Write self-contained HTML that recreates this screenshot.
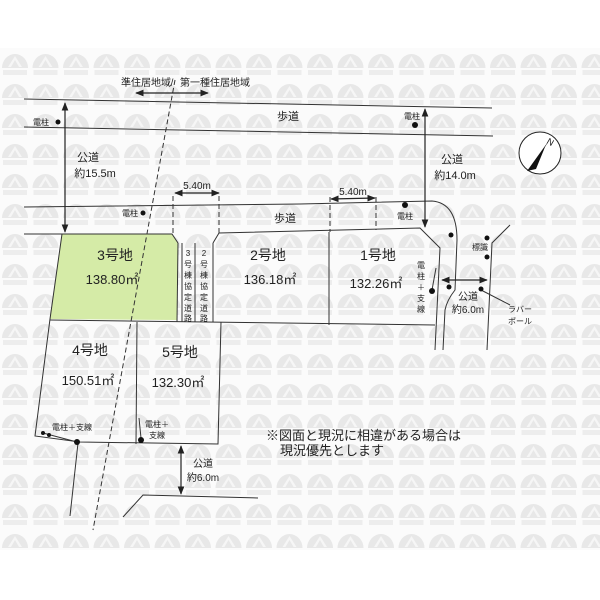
<!DOCTYPE html>
<html><head><meta charset="utf-8"><style>
html,body{margin:0;padding:0;background:#fff;}
svg{display:block;font-family:"Liberation Sans","Noto Sans CJK JP",sans-serif;}
</style></head><body>
<svg width="600" height="600" viewBox="0 0 600 600" xmlns="http://www.w3.org/2000/svg">
<defs>
<pattern id="wm" x="0" y="48" width="30.5" height="30" patternUnits="userSpaceOnUse">
<rect width="30.5" height="30" fill="#fbfbfb"/>
<path d="M2 20 A13 14 0 0 1 28 20 Z" fill="#e8e8e8"/>
<path d="M15 8 L8 19 L22 19 Z" fill="#f6f6f6"/>
<path d="M15 12 L11 19 L19 19 Z" fill="#e8e8e8"/>
<rect x="3" y="22" width="24" height="5" fill="#ededed"/>
</pattern>
<marker id="a" viewBox="0 0 10 10" refX="9" refY="5" markerWidth="7" markerHeight="7" orient="auto-start-reverse"><path d="M0 1 L10 5 L0 9 Z" fill="#222"/></marker>
</defs>
<rect width="600" height="600" fill="#fff"/>
<rect x="0" y="48" width="600" height="502" fill="url(#wm)"/>
<polygon points="62,234 172,234 178,243 177,320 50,319" fill="#d5eba7"/>
<g stroke="#333" stroke-width="1" fill="none">
<line x1="24" y1="99" x2="492" y2="108"/>
<line x1="24" y1="127" x2="493" y2="136"/>
<path d="M24 207 L300 204 L432 201 Q457 203 457 240 L455 290 Q447 300 445 310 L443 350"/>
<path d="M24 234 L172 234 L178 243 M213 243 L219 233 L420 228 L440 248 L435 350"/>
<line x1="178" y1="243" x2="177" y2="322"/>
<line x1="182" y1="243" x2="182" y2="322"/>
<line x1="195" y1="243" x2="195" y2="322"/>
<line x1="213" y1="243" x2="213" y2="322"/>
<path d="M172 234 L62 234 L50 319 L35 436 L80 442 L218 444 L221 322"/>
<line x1="50" y1="320" x2="435" y2="325"/>
<line x1="137" y1="322" x2="136" y2="444"/>
<line x1="329" y1="232" x2="329" y2="325"/>
<line x1="78" y1="443" x2="70" y2="516"/>
<path d="M123 517 L143 495 L258 498"/>
<path d="M510 225 L492 243 L487 350"/>
<line x1="481" y1="290" x2="510" y2="305"/>
<line x1="43" y1="433" x2="77" y2="442"/>
<line x1="139" y1="418" x2="141" y2="438"/>
<line x1="436" y1="268" x2="432" y2="290"/>
</g>
<g stroke="#333" stroke-width="1" fill="none" stroke-dasharray="5,3">
<line x1="175" y1="80" x2="93" y2="530"/>
<path d="M173 196 L173 233"/><path d="M219 196 L219 233"/>
<path d="M330 197 L330 232"/><path d="M376 197 L376 230"/>
</g>
<g stroke="#222" stroke-width="1.2" fill="none" marker-start="url(#a)" marker-end="url(#a)">
<line x1="136" y1="93" x2="208" y2="93"/>
<line x1="175" y1="193" x2="219" y2="193"/>
<line x1="331" y1="199" x2="375" y2="198"/>
<line x1="65" y1="103" x2="65" y2="232"/>
<line x1="425" y1="109" x2="425" y2="227"/>
<line x1="442" y1="280" x2="487" y2="280"/>
<line x1="181" y1="446" x2="181" y2="494"/>
</g>
<g fill="#111">
<circle cx="58" cy="122" r="2.5"/><circle cx="143" cy="213" r="2.5"/>
<circle cx="415" cy="125" r="3"/><circle cx="405" cy="205" r="3"/>
<circle cx="451" cy="235" r="2.5"/><circle cx="449" cy="287" r="2.5"/>
<circle cx="432" cy="291" r="3"/>
<circle cx="487" cy="238" r="2.5"/><circle cx="487" cy="257" r="2.5"/><circle cx="481" cy="289" r="2.5"/>
<circle cx="43" cy="433" r="2"/><circle cx="49" cy="435" r="2"/><circle cx="77" cy="442" r="3"/>
<circle cx="141" cy="440" r="3"/>
</g>
<circle cx="540" cy="153" r="21" fill="#fff" stroke="#222" stroke-width="1"/>
<polygon points="550,139 527,171 536,169 545,147" fill="#111"/>
<text x="546" y="143" font-size="9" fill="#111" transform="rotate(30 546 143)">N</text>
<g fill="#222" font-size="10" text-anchor="middle">
<text x="146" y="86">準住居地域</text><text x="172" y="86">/</text><text x="215" y="86">第一種住居地域</text>
<text x="197" y="189">5.40m</text><text x="353" y="195">5.40m</text>
<text x="41" y="125" font-size="8">電柱</text>
<text x="130" y="216" font-size="8">電柱</text>
<text x="412" y="119" font-size="8">電柱</text>
<text x="405" y="219" font-size="8">電柱</text>
<text x="480" y="250" font-size="8">標識</text>
<text x="520" y="312" font-size="8">ラバー</text><text x="520" y="324" font-size="8">ポール</text>
<text x="72" y="430" font-size="8">電柱＋支線</text>
<text x="157" y="427" font-size="8">電柱＋</text><text x="157" y="438" font-size="8">支線</text>
</g>
<g fill="#222" text-anchor="middle" font-size="8">
<text x="421" y="268">電</text><text x="421" y="279">柱</text><text x="421" y="290">＋</text><text x="421" y="301">支</text><text x="421" y="312">線</text>
<text x="188" y="256">3</text><text x="188" y="267">号</text><text x="188" y="278">棟</text><text x="188" y="289">協</text><text x="188" y="300">定</text><text x="188" y="311">道</text><text x="188" y="321">路</text>
<text x="204" y="256">2</text><text x="204" y="267">号</text><text x="204" y="278">棟</text><text x="204" y="289">協</text><text x="204" y="300">定</text><text x="204" y="311">道</text><text x="204" y="321">路</text>
</g>
<g fill="#222" font-size="11" text-anchor="middle">
<text x="288" y="120">歩道</text><text x="285" y="222">歩道</text>
<text x="88" y="161">公道</text><text x="95" y="177">約15.5m</text>
<text x="452" y="163">公道</text><text x="455" y="179">約14.0m</text>
<text x="468" y="300" font-size="10">公道</text><text x="468" y="313" font-size="10">約6.0m</text>
<text x="203" y="467" font-size="10">公道</text><text x="203" y="481" font-size="10">約6.0m</text>
</g>
<g fill="#222" font-size="14" text-anchor="middle">
<text x="115" y="260">3号地</text><text x="112" y="284" font-size="13">138.80㎡</text>
<text x="268" y="260">2号地</text><text x="270" y="284" font-size="13">136.18㎡</text>
<text x="378" y="260">1号地</text><text x="376" y="288" font-size="13">132.26㎡</text>
<text x="90" y="355">4号地</text><text x="88" y="385" font-size="13">150.51㎡</text>
<text x="180" y="357">5号地</text><text x="178" y="387" font-size="13">132.30㎡</text>
</g>
<g fill="#222" font-size="13">
<text x="266" y="440">※図面と現況に相違がある場合は</text>
<text x="280" y="455">現況優先とします</text>
</g>
</svg>
</body></html>
